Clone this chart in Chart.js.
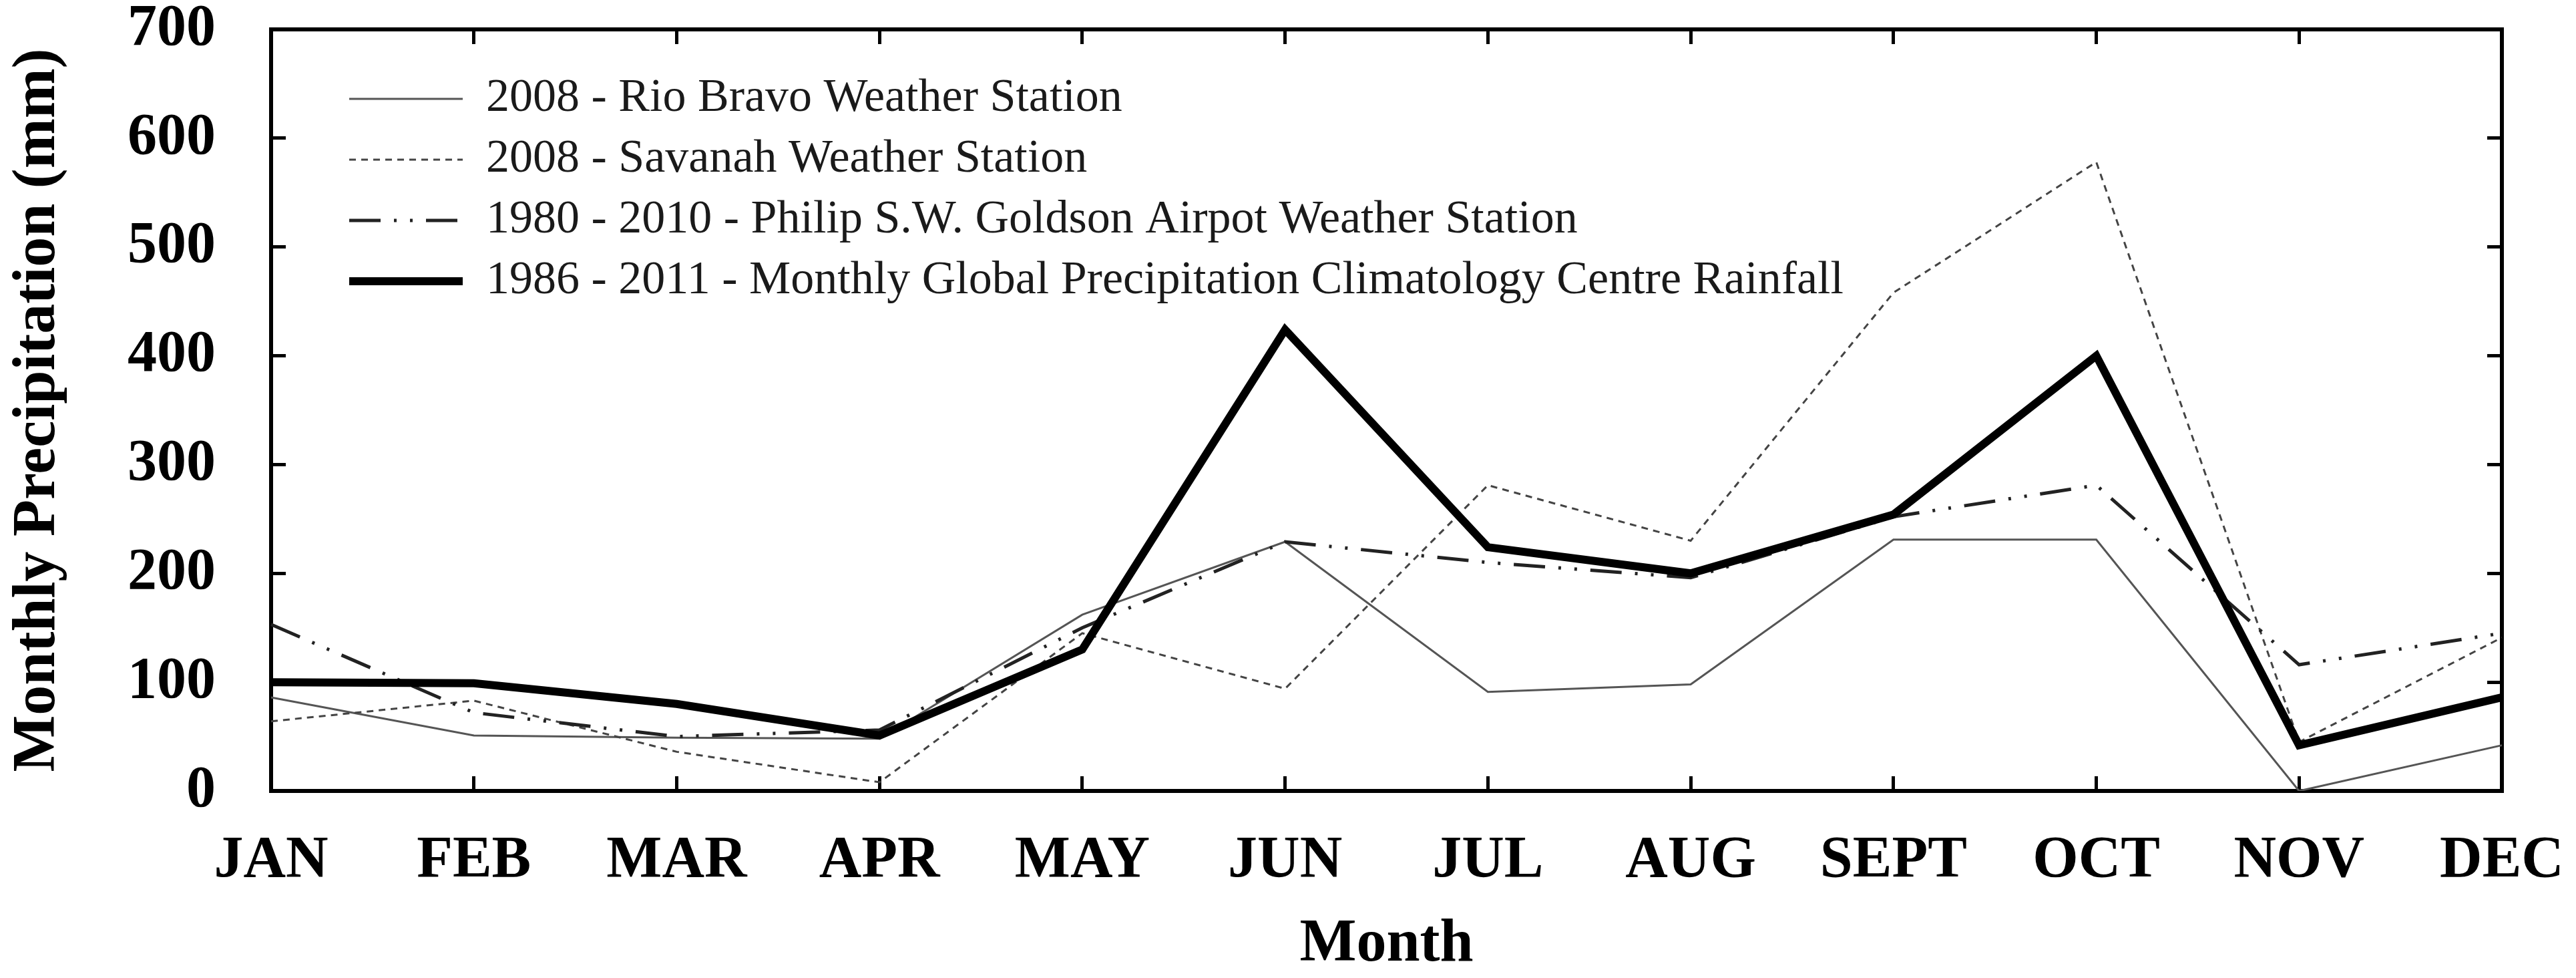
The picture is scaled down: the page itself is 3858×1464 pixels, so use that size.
<!DOCTYPE html>
<html>
<head>
<meta charset="utf-8">
<script src="https://cdn.jsdelivr.net/npm/chart.js@4.4.1/dist/chart.umd.min.js"></script>
<style>
  html, body { margin: 0; padding: 0; background: #ffffff; }
  #wrap { width: 3858px; height: 1464px; position: relative; }
</style>
</head>
<body>
<div id="wrap"><canvas id="c"></canvas></div>
<script>
const months = ['JAN','FEB','MAR','APR','MAY','JUN','JUL','AUG','SEPT','OCT','NOV','DEC'];
const rioBravo2008 = [86, 51, 49, 48, 162, 229, 91, 98, 231, 231, 0, 42];
const savanah2008 = [64, 83, 36, 8, 145, 94, 281, 230, 458, 578, 45, 141];
const goldson19802010 = [153, 72, 50, 56, 150, 229, 210, 196, 252, 281, 116, 145];
const gpcc19862011 = [100, 99, 80, 51, 130, 424, 224, 200, 254, 400, 42, 86];
const seriesNames = [
  '2008 - Rio Bravo Weather Station',
  '2008 - Savanah Weather Station',
  '1980 - 2010 - Philip S.W. Goldson Airpot Weather Station',
  '1986 - 2011 - Monthly Global Precipitation Climatology Centre Rainfall'
];
const yMin = 0, yMax = 700, yStep = 100;

const SERIF = '"Liberation Serif", "Times New Roman", "DejaVu Serif", serif';

const legendShift = {
  id: 'legendShift',
  afterLayout(chart) {
    const lg = chart.legend;
    if (!lg) return;
    const ca = chart.chartArea;
    lg.left = ca.left + 96; lg.right = lg.left + lg.width;
    lg.top = ca.top + 48; lg.bottom = ca.bottom;
  }
};

const tickGrid = {
  drawOnChartArea: false,
  drawTicks: true,
  tickLength: -22,
  tickWidth: 5,
  tickColor: '#000'
};
const axisBorder = { display: true, width: 6, color: '#000' };
function noPad(scale) {
  scale.paddingTop = 0; scale.paddingBottom = 0;
  scale.paddingLeft = 0; scale.paddingRight = 0;
}

new Chart(document.getElementById('c'), {
  type: 'line',
  data: {
    labels: months,
    datasets: [
      { label: seriesNames[0], data: rioBravo2008, borderColor: '#555', borderWidth: 3, order: 3 },
      { label: seriesNames[1], data: savanah2008, borderColor: '#444', borderWidth: 3, borderDash: [10, 8], order: 2 },
      { label: seriesNames[2], data: goldson19802010, borderColor: '#222', borderWidth: 5, borderDash: [47, 20, 4, 20, 4, 20], order: 1 },
      { label: seriesNames[3], data: gpcc19862011, borderColor: '#000', borderWidth: 12, order: 0 }
    ]
  },
  options: {
    responsive: true,
    maintainAspectRatio: false,
    animation: false,
    events: [],
    devicePixelRatio: 1,
    layout: { padding: { left: 0, right: 111, top: 44, bottom: 0 } },
    elements: {
      line: { tension: 0, fill: false, borderJoinStyle: 'miter', borderCapStyle: 'butt' },
      point: { radius: 0, hoverRadius: 0 }
    },
    plugins: {
      tooltip: { enabled: false },
      title: { display: false },
      legend: {
        display: true,
        position: 'chartArea',
        fullSize: false,
        align: 'start',
        labels: {
          usePointStyle: true,
          pointStyle: 'line',
          pointStyleWidth: 170,
          boxHeight: 10,
          padding: 21,
          color: '#1a1a1a',
          font: { family: SERIF, size: 70, weight: 'normal' },
          sort: (a, b) => a.datasetIndex - b.datasetIndex,
          generateLabels(ch) {
            const items = Chart.defaults.plugins.legend.labels.generateLabels(ch);
            items.forEach(it => {
              const ds = ch.data.datasets[it.datasetIndex];
              it.lineDash = ds.borderDash || [];
              it.lineWidth = ds.borderWidth;
              it.strokeStyle = ds.borderColor;
            });
            return items;
          }
        }
      }
    },
    scales: {
      x: {
        type: 'category',
        position: 'bottom',
        offset: false,
        grid: Object.assign({ offset: false }, tickGrid),
        border: axisBorder,
        ticks: {
          color: '#000',
          padding: 74,
          maxRotation: 0,
          autoSkip: false,
          font: { family: SERIF, size: 88, weight: 'bold' }
        },
        title: {
          display: true,
          text: 'Month',
          color: '#000',
          padding: { top: 0, bottom: 0 },
          font: { family: SERIF, size: 90, weight: 'bold', lineHeight: 1.1 }
        },
        afterFit(scale) { scale.height = 280; noPad(scale); }
      },
      x2: {
        type: 'category',
        position: 'top',
        offset: false,
        grid: Object.assign({ offset: false }, tickGrid),
        border: axisBorder,
        ticks: { display: false },
        afterFit(scale) { scale.height = 0; noPad(scale); }
      },
      y: {
        type: 'linear',
        position: 'left',
        min: yMin,
        max: yMax,
        grid: tickGrid,
        border: axisBorder,
        ticks: {
          stepSize: yStep,
          color: '#000',
          padding: 105,
          font: { family: SERIF, size: 88, weight: 'bold', lineHeight: 0.8 }
        },
        title: {
          display: true,
          text: 'Monthly Precipitation (mm)',
          color: '#000',
          padding: { top: 4, bottom: 0 },
          font: { family: SERIF, size: 90, weight: 'bold' }
        },
        afterFit(scale) { scale.width = 406; noPad(scale); }
      },
      y2: {
        type: 'linear',
        position: 'right',
        min: yMin,
        max: yMax,
        grid: tickGrid,
        border: axisBorder,
        ticks: { display: false, stepSize: yStep },
        afterFit(scale) { scale.width = 0; noPad(scale); }
      }
    }
  },
  plugins: [legendShift]
});
</script>
</body>
</html>
